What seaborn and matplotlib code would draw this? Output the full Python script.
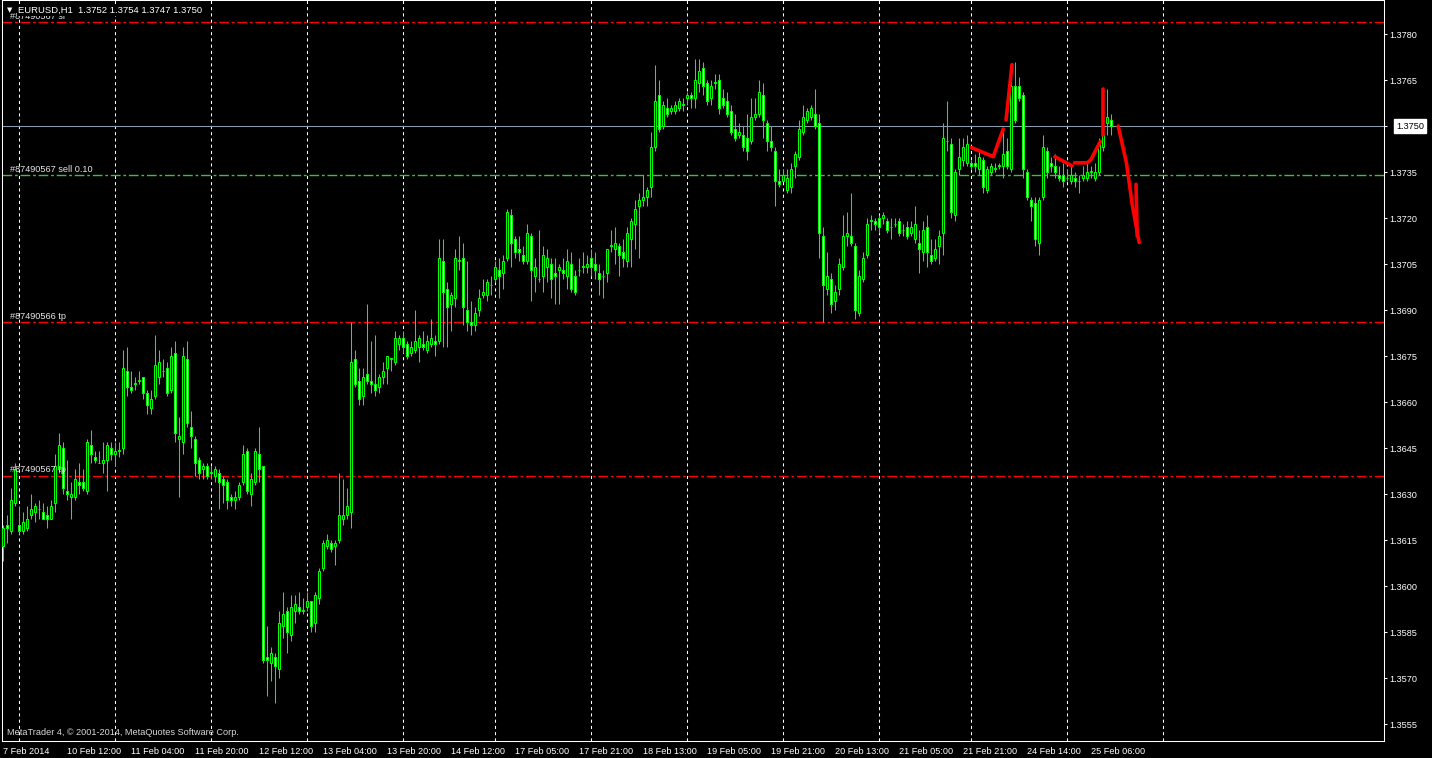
import numpy as np
import pandas as pd
import matplotlib
matplotlib.use("Agg")
import matplotlib.pyplot as plt
import matplotlib.transforms as mtransforms
import seaborn as sns

# EURUSD H1 bars, 7 Feb 2014 19:00 .. 25 Feb 2014 11:00
opens = [
    1.3613, 1.3620, 1.3618, 1.3627, 1.3620, 1.3618, 1.3619, 1.3623, 1.3624, 1.3625,
    1.3624, 1.3623, 1.3622, 1.3627, 1.3638, 1.3645, 1.3631, 1.3629, 1.3629, 1.3634,
    1.3634, 1.3631, 1.3646, 1.3642, 1.3640, 1.3640, 1.3641, 1.3645, 1.3643, 1.3644,
    1.3645, 1.3670, 1.3665, 1.3666, 1.3667, 1.3668, 1.3663, 1.3658, 1.3662, 1.3668,
    1.3670, 1.3671, 1.3664, 1.3676, 1.3648, 1.3647, 1.3674, 1.3652, 1.3648, 1.3641,
    1.3638, 1.3639, 1.3637, 1.3636, 1.3637, 1.3635, 1.3634, 1.3629, 1.3628, 1.3629,
    1.3634, 1.3644, 1.3630, 1.3634, 1.3643, 1.3639, 1.3577, 1.3575, 1.3577, 1.3573,
    1.3587, 1.3592, 1.3584, 1.3592, 1.3593, 1.3592, 1.3593, 1.3595, 1.3588, 1.3596,
    1.3606, 1.3613, 1.3614, 1.3613, 1.3615, 1.3622, 1.3623, 1.3624, 1.3674, 1.3667,
    1.3662, 1.3669, 1.3667, 1.3666, 1.3665, 1.3668, 1.3671, 1.3674, 1.3673, 1.3679,
    1.3681, 1.3679, 1.3676, 1.3677, 1.3678, 1.3679, 1.3677, 1.3679, 1.3680, 1.3680,
    1.3706, 1.3697, 1.3692, 1.3694, 1.3706, 1.3707, 1.3690, 1.3686, 1.3685, 1.3690,
    1.3695, 1.3695, 1.3698, 1.3700, 1.3703, 1.3702, 1.3707, 1.3721, 1.3713, 1.3710,
    1.3708, 1.3706, 1.3714, 1.3701, 1.3700, 1.3701, 1.3704, 1.3705, 1.3702, 1.3703,
    1.3703, 1.3701, 1.3705, 1.3701, 1.3703, 1.3704, 1.3704, 1.3707, 1.3705, 1.3702,
    1.3701, 1.3702, 1.3711, 1.3710, 1.3711, 1.3709, 1.3706, 1.3713, 1.3718, 1.3724,
    1.3726, 1.3727, 1.3730, 1.3743, 1.3760, 1.3750, 1.3756, 1.3755, 1.3755, 1.3756,
    1.3757, 1.3759, 1.3760, 1.3759, 1.3764, 1.3769, 1.3764, 1.3759, 1.3764, 1.3765,
    1.3759, 1.3758, 1.3755, 1.3749, 1.3747, 1.3747, 1.3746, 1.3745, 1.3753, 1.3754,
    1.3760, 1.3751, 1.3745, 1.3742, 1.3732, 1.3732, 1.3729, 1.3730, 1.3737, 1.3740,
    1.3748, 1.3752, 1.3753, 1.3754, 1.3751, 1.3714, 1.3697, 1.3700, 1.3693, 1.3697,
    1.3704, 1.3714, 1.3714, 1.3711, 1.3689, 1.3700, 1.3708, 1.3719, 1.3719, 1.3720,
    1.3720, 1.3719, 1.3717, 1.3718, 1.3719, 1.3716, 1.3717, 1.3715, 1.3713, 1.3712,
    1.3709, 1.3717, 1.3708, 1.3707, 1.3711, 1.3715, 1.3745, 1.3744, 1.3721, 1.3736,
    1.3739, 1.3738, 1.3738, 1.3738, 1.3736, 1.3739, 1.3729, 1.3735, 1.3736, 1.3737,
    1.3737, 1.3742, 1.3736, 1.3763, 1.3763, 1.3760, 1.3735, 1.3726, 1.3725, 1.3712,
    1.3727, 1.3742, 1.3738, 1.3737, 1.3734, 1.3734, 1.3733, 1.3732, 1.3733, 1.3732,
    1.3733, 1.3733, 1.3735, 1.3733, 1.3735, 1.3743, 1.3751, 1.3752,
]
highs = [
    1.3620, 1.3623, 1.3632, 1.3640, 1.3626, 1.3624, 1.3626, 1.3630, 1.3627, 1.3628,
    1.3627, 1.3626, 1.3628, 1.3643, 1.3650, 1.3647, 1.3641, 1.3634, 1.3638, 1.3640,
    1.3638, 1.3648, 1.3651, 1.3644, 1.3644, 1.3647, 1.3647, 1.3647, 1.3647, 1.3647,
    1.3677, 1.3678, 1.3670, 1.3668, 1.3670, 1.3668, 1.3664, 1.3664, 1.3682, 1.3677,
    1.3674, 1.3673, 1.3678, 1.3680, 1.3655, 1.3678, 1.3680, 1.3657, 1.3649, 1.3642,
    1.3640, 1.3640, 1.3639, 1.3639, 1.3638, 1.3636, 1.3635, 1.3630, 1.3631, 1.3634,
    1.3646, 1.3645, 1.3637, 1.3645, 1.3652, 1.3639, 1.3587, 1.3580, 1.3578, 1.3592,
    1.3598, 1.3593, 1.3597, 1.3597, 1.3598, 1.3596, 1.3598, 1.3595, 1.3598, 1.3606,
    1.3615, 1.3617, 1.3615, 1.3615, 1.3637, 1.3635, 1.3632, 1.3686, 1.3677, 1.3671,
    1.3671, 1.3692, 1.3680, 1.3682, 1.3669, 1.3673, 1.3675, 1.3674, 1.3683, 1.3682,
    1.3683, 1.3680, 1.3680, 1.3690, 1.3682, 1.3683, 1.3682, 1.3687, 1.3682, 1.3713,
    1.3713, 1.3699, 1.3696, 1.3710, 1.3714, 1.3712, 1.3706, 1.3693, 1.3691, 1.3697,
    1.3700, 1.3700, 1.3701, 1.3706, 1.3707, 1.3708, 1.3723, 1.3723, 1.3714, 1.3714,
    1.3711, 1.3718, 1.3715, 1.3707, 1.3716, 1.3711, 1.3710, 1.3707, 1.3707, 1.3705,
    1.3707, 1.3710, 1.3709, 1.3703, 1.3707, 1.3709, 1.3708, 1.3710, 1.3709, 1.3705,
    1.3703, 1.3710, 1.3716, 1.3717, 1.3712, 1.3713, 1.3717, 1.3720, 1.3726, 1.3728,
    1.3734, 1.3730, 1.3748, 1.3770, 1.3765, 1.3758, 1.3759, 1.3757, 1.3758, 1.3759,
    1.3759, 1.3761, 1.3761, 1.3772, 1.3772, 1.3771, 1.3765, 1.3765, 1.3767, 1.3767,
    1.3762, 1.3761, 1.3757, 1.3754, 1.3751, 1.3750, 1.3754, 1.3759, 1.3759, 1.3765,
    1.3764, 1.3752, 1.3750, 1.3743, 1.3736, 1.3736, 1.3736, 1.3738, 1.3742, 1.3752,
    1.3757, 1.3756, 1.3757, 1.3762, 1.3754, 1.3717, 1.3709, 1.3702, 1.3698, 1.3707,
    1.3721, 1.3722, 1.3728, 1.3712, 1.3703, 1.3709, 1.3720, 1.3721, 1.3720, 1.3721,
    1.3722, 1.3720, 1.3720, 1.3720, 1.3720, 1.3718, 1.3719, 1.3719, 1.3724, 1.3716,
    1.3719, 1.3721, 1.3713, 1.3713, 1.3716, 1.3751, 1.3758, 1.3746, 1.3736, 1.3746,
    1.3746, 1.3747, 1.3739, 1.3741, 1.3742, 1.3740, 1.3737, 1.3738, 1.3738, 1.3738,
    1.3749, 1.3746, 1.3770, 1.3771, 1.3766, 1.3761, 1.3736, 1.3727, 1.3727, 1.3727,
    1.3747, 1.3743, 1.3740, 1.3741, 1.3737, 1.3738, 1.3736, 1.3737, 1.3735, 1.3734,
    1.3737, 1.3738, 1.3737, 1.3738, 1.3746, 1.3750, 1.3762, 1.3754,
]
lows = [
    1.3608, 1.3614, 1.3617, 1.3626, 1.3617, 1.3617, 1.3618, 1.3622, 1.3621, 1.3622,
    1.3622, 1.3619, 1.3622, 1.3624, 1.3637, 1.3630, 1.3628, 1.3622, 1.3628, 1.3630,
    1.3631, 1.3630, 1.3640, 1.3640, 1.3640, 1.3637, 1.3631, 1.3641, 1.3639, 1.3642,
    1.3643, 1.3662, 1.3663, 1.3664, 1.3666, 1.3661, 1.3656, 1.3656, 1.3661, 1.3666,
    1.3668, 1.3662, 1.3663, 1.3647, 1.3629, 1.3643, 1.3652, 1.3645, 1.3636, 1.3635,
    1.3635, 1.3635, 1.3635, 1.3634, 1.3625, 1.3627, 1.3625, 1.3626, 1.3625, 1.3628,
    1.3633, 1.3630, 1.3626, 1.3633, 1.3634, 1.3575, 1.3564, 1.3569, 1.3562, 1.3570,
    1.3583, 1.3578, 1.3582, 1.3588, 1.3591, 1.3591, 1.3592, 1.3585, 1.3585, 1.3594,
    1.3605, 1.3612, 1.3611, 1.3607, 1.3614, 1.3620, 1.3622, 1.3619, 1.3665, 1.3659,
    1.3659, 1.3666, 1.3663, 1.3662, 1.3663, 1.3666, 1.3666, 1.3670, 1.3672, 1.3677,
    1.3676, 1.3674, 1.3675, 1.3676, 1.3673, 1.3677, 1.3676, 1.3678, 1.3675, 1.3679,
    1.3678, 1.3678, 1.3683, 1.3691, 1.3703, 1.3685, 1.3683, 1.3682, 1.3683, 1.3688,
    1.3694, 1.3693, 1.3695, 1.3699, 1.3694, 1.3697, 1.3706, 1.3704, 1.3707, 1.3706,
    1.3705, 1.3705, 1.3693, 1.3696, 1.3699, 1.3696, 1.3699, 1.3694, 1.3692, 1.3692,
    1.3700, 1.3697, 1.3696, 1.3695, 1.3701, 1.3702, 1.3702, 1.3701, 1.3700, 1.3695,
    1.3694, 1.3699, 1.3709, 1.3705, 1.3701, 1.3704, 1.3704, 1.3704, 1.3710, 1.3707,
    1.3724, 1.3724, 1.3727, 1.3742, 1.3748, 1.3749, 1.3753, 1.3754, 1.3754, 1.3755,
    1.3755, 1.3757, 1.3756, 1.3756, 1.3761, 1.3760, 1.3757, 1.3757, 1.3762, 1.3754,
    1.3756, 1.3753, 1.3747, 1.3745, 1.3746, 1.3742, 1.3739, 1.3744, 1.3752, 1.3753,
    1.3746, 1.3742, 1.3742, 1.3724, 1.3730, 1.3732, 1.3728, 1.3728, 1.3733, 1.3739,
    1.3747, 1.3751, 1.3752, 1.3749, 1.3707, 1.3686, 1.3695, 1.3689, 1.3690, 1.3695,
    1.3703, 1.3711, 1.3711, 1.3687, 1.3688, 1.3699, 1.3707, 1.3716, 1.3716, 1.3715,
    1.3718, 1.3715, 1.3713, 1.3717, 1.3714, 1.3714, 1.3713, 1.3714, 1.3712, 1.3702,
    1.3706, 1.3704, 1.3705, 1.3706, 1.3705, 1.3708, 1.3742, 1.3720, 1.3719, 1.3734,
    1.3737, 1.3737, 1.3736, 1.3735, 1.3734, 1.3728, 1.3728, 1.3734, 1.3735, 1.3736,
    1.3733, 1.3736, 1.3735, 1.3751, 1.3758, 1.3733, 1.3726, 1.3719, 1.3711, 1.3708,
    1.3726, 1.3733, 1.3735, 1.3733, 1.3732, 1.3730, 1.3732, 1.3731, 1.3730, 1.3728,
    1.3732, 1.3732, 1.3733, 1.3732, 1.3734, 1.3742, 1.3747, 1.3747,
]
closes = [
    1.3619, 1.3619, 1.3628, 1.3638, 1.3618, 1.3621, 1.3622, 1.3625, 1.3626, 1.3625,
    1.3622, 1.3622, 1.3626, 1.3639, 1.3646, 1.3632, 1.3630, 1.3630, 1.3635, 1.3633,
    1.3632, 1.3647, 1.3643, 1.3641, 1.3640, 1.3641, 1.3646, 1.3643, 1.3644, 1.3644,
    1.3671, 1.3665, 1.3664, 1.3666, 1.3667, 1.3663, 1.3659, 1.3661, 1.3672, 1.3673,
    1.3670, 1.3663, 1.3675, 1.3650, 1.3649, 1.3675, 1.3653, 1.3649, 1.3640, 1.3637,
    1.3639, 1.3636, 1.3637, 1.3638, 1.3634, 1.3633, 1.3628, 1.3628, 1.3629, 1.3633,
    1.3643, 1.3631, 1.3635, 1.3644, 1.3638, 1.3576, 1.3576, 1.3578, 1.3574, 1.3588,
    1.3591, 1.3585, 1.3593, 1.3594, 1.3592, 1.3592, 1.3595, 1.3587, 1.3597, 1.3605,
    1.3614, 1.3615, 1.3612, 1.3614, 1.3623, 1.3623, 1.3626, 1.3673, 1.3666, 1.3661,
    1.3668, 1.3667, 1.3666, 1.3664, 1.3668, 1.3670, 1.3675, 1.3674, 1.3681, 1.3681,
    1.3678, 1.3675, 1.3678, 1.3680, 1.3681, 1.3678, 1.3680, 1.3681, 1.3679, 1.3707,
    1.3696, 1.3691, 1.3695, 1.3707, 1.3706, 1.3691, 1.3686, 1.3685, 1.3689, 1.3694,
    1.3696, 1.3699, 1.3698, 1.3704, 1.3701, 1.3706, 1.3722, 1.3712, 1.3709, 1.3709,
    1.3706, 1.3715, 1.3703, 1.3704, 1.3700, 1.3708, 1.3707, 1.3700, 1.3701, 1.3704,
    1.3702, 1.3706, 1.3697, 1.3696, 1.3703, 1.3704, 1.3705, 1.3704, 1.3703, 1.3700,
    1.3701, 1.3710, 1.3711, 1.3712, 1.3708, 1.3707, 1.3715, 1.3719, 1.3723, 1.3726,
    1.3727, 1.3729, 1.3743, 1.3758, 1.3749, 1.3757, 1.3754, 1.3756, 1.3757, 1.3758,
    1.3757, 1.3760, 1.3759, 1.3765, 1.3768, 1.3763, 1.3758, 1.3763, 1.3764, 1.3756,
    1.3757, 1.3754, 1.3748, 1.3746, 1.3748, 1.3743, 1.3742, 1.3753, 1.3754, 1.3761,
    1.3752, 1.3745, 1.3743, 1.3732, 1.3731, 1.3734, 1.3733, 1.3736, 1.3741, 1.3749,
    1.3753, 1.3755, 1.3756, 1.3750, 1.3715, 1.3698, 1.3701, 1.3692, 1.3696, 1.3705,
    1.3714, 1.3715, 1.3712, 1.3690, 1.3701, 1.3707, 1.3718, 1.3719, 1.3718, 1.3717,
    1.3721, 1.3716, 1.3717, 1.3718, 1.3715, 1.3716, 1.3714, 1.3717, 1.3718, 1.3710,
    1.3716, 1.3709, 1.3706, 1.3710, 1.3714, 1.3746, 1.3745, 1.3722, 1.3735, 1.3740,
    1.3743, 1.3744, 1.3737, 1.3737, 1.3740, 1.3730, 1.3736, 1.3737, 1.3736, 1.3737,
    1.3741, 1.3737, 1.3763, 1.3752, 1.3759, 1.3736, 1.3727, 1.3724, 1.3713, 1.3726,
    1.3743, 1.3735, 1.3737, 1.3735, 1.3733, 1.3732, 1.3733, 1.3734, 1.3732, 1.3732,
    1.3734, 1.3735, 1.3735, 1.3735, 1.3744, 1.3747, 1.3753, 1.3750,
]

# order lines
sl_price = 1.3784
sell_price = 1.3734
tp66_price = 1.3686
tp67_price = 1.3636
bid_price = 1.3750

# red indicator line (bar index, price), one list per stroke
zz_bars = [[242, 247.5, 250], [250.7, 252.2], [262.9, 267.2],
           [267.8, 271.0, 271.9, 274.3], [275, 275],
           [278.75, 280.8, 282.3, 284.0], [283.2, 283.5]]
zz_prices = [[1.3743, 1.3740, 1.3749], [1.3752, 1.3770], [1.3740, 1.3737],
             [1.3738, 1.3738, 1.3739, 1.3745], [1.3747, 1.3762],
             [1.3750, 1.3738, 1.3724, 1.3712], [1.3731, 1.3714]]

header_txt = "EURUSD,H1  1.3752 1.3754 1.3747 1.3750"
copyright_txt = "MetaTrader 4, \u00a9 2001-2014, MetaQuotes Software Corp."
price_ticks = [1.3555, 1.3570, 1.3585, 1.3600, 1.3615, 1.3630, 1.3645, 1.3660,
               1.3675, 1.3690, 1.3705, 1.3720, 1.3735, 1.3750, 1.3765, 1.3780]

sns.set_theme(style="dark", rc={
    "axes.facecolor": "black", "figure.facecolor": "black",
    "axes.edgecolor": "white", "axes.grid": False,
    "xtick.color": "white", "ytick.color": "white", "text.color": "white",
})
plt.rcParams['font.family'] = ['Liberation Sans', 'DejaVu Sans']

n = min(len(opens), len(highs), len(lows), len(closes))
df = pd.DataFrame({"open": opens[:n], "high": highs[:n], "low": lows[:n], "close": closes[:n]})
df["bar"] = np.arange(n)

# broker time axis: no weekend bars, friday closes at 23:00
hours = pd.date_range("2014-02-07 19:00", "2014-02-26 00:00", freq="h")
hours = hours[(hours.dayofweek < 5) & ~((hours.dayofweek == 4) & (hours.hour == 23))]

W, H = 1432, 758
fig = plt.figure(figsize=(W / 100, H / 100), dpi=100)
ax = fig.add_axes([2 / W, 17 / H, 1382 / W, 741 / H])
ax.set_xlim(-0.33, 345.2)
ax.set_ylim(1.354946, 1.379109)

# day separators (dotted)
for i, t in enumerate(hours):
    if t.hour == 0:
        ax.axvline(i, color="white", lw=0.75, ls=(0, (3, 3)), zorder=1)

# order levels
ax.axhline(sl_price, color="#ff0000", lw=1.0, ls=(0, (7, 2, 2, 2)), zorder=1.5)
ax.axhline(tp66_price, color="#ff0000", lw=1.0, ls=(0, (7, 2, 2, 2)), zorder=1.5)
ax.axhline(tp67_price, color="#ff0000", lw=1.0, ls=(0, (7, 2, 2, 2)), zorder=1.5)
ax.axhline(sell_price, color="#3cc03c", lw=1.0, ls=(0, (7, 2, 2, 2)), zorder=1.5)
ax.axhline(bid_price, color="#8a9bb0", lw=0.75, zorder=1.5)

# candles
bull = df["close"] >= df["open"]
body_lo = df[["open", "close"]].min(axis=1)
body_h = (df["close"] - df["open"]).abs().clip(lower=0.00002)
ax.vlines(df["bar"], df["low"], df["high"], colors="#00ff00", lw=0.75, zorder=3)
ax.bar(df["bar"], body_h, bottom=body_lo, width=0.5,
       color=np.where(bull, "black", "white"), edgecolor="#00ff00",
       linewidth=0.75, zorder=4)

# red indicator strokes
zz = pd.DataFrame([(k, b, p) for k, (bs, ps) in enumerate(zip(zz_bars, zz_prices))
                   for b, p in zip(bs, ps)], columns=["stroke", "bar", "price"])
sns.lineplot(data=zz, x="bar", y="price", units="stroke", estimator=None, sort=False,
             color="#ff0000", lw=2.6, ax=ax, zorder=5, legend=False)
ax.set_xlabel("")
ax.set_ylabel("")

# order labels
lbl = dict(fontsize=6.6, color="#e6e6e6", va="bottom", ha="left", zorder=6)
trans = mtransforms.blended_transform_factory(ax.transAxes, ax.transData)
ax.text(0.006, sell_price + 0.00004, "#87490567 sell 0.10", transform=trans, **lbl)
ax.text(0.006, tp66_price + 0.00004, "#87490566 tp", transform=trans, **lbl)
ax.text(0.006, tp67_price + 0.00004, "#87490567 tp", transform=trans, **lbl)
ax.text(0.006, sl_price + 0.00003, "#87490567 sl", transform=trans, **lbl)

# time axis
ticks = list(range(0, n, 16))
labels = ["7 Feb 2014" if j == 0 else f"{hours[j].day} {hours[j]:%b %H:%M}" for j in ticks]
ax.set_xticks(ticks)
ax.set_xticklabels(labels, ha="left")
ax.tick_params(axis="x", length=3, width=0.75, pad=1, labelsize=6.6, colors="white")

# price axis (the bid tag takes the place of its own tick label)
ax.yaxis.tick_right()
ax.set_yticks(price_ticks)
ax.set_yticklabels(["" if abs(p - bid_price) < 1e-6 else f"{p:.4f}" for p in price_ticks])
ax.tick_params(axis="y", length=2.5, width=0.75, pad=1.5, labelsize=6.6, colors="white")
ax.text(1.0088, bid_price, f"{bid_price:.4f}", transform=trans, fontsize=6.6,
        color="black", va="center", ha="left", clip_on=False, zorder=10,
        bbox=dict(boxstyle="square,pad=0.25", fc="white", ec="white"))

for s in ax.spines.values():
    s.set_color("white")
    s.set_linewidth(0.75)

# header and copyright
fig.text(7 / W, 1 - 10 / H, "\u25bc", fontsize=5, color="white", va="center", ha="left",
         family=["DejaVu Sans"])
fig.text(18 / W, 1 - 10 / H, header_txt, fontsize=6.8, color="white", va="center", ha="left",
         bbox=dict(boxstyle="square,pad=0.15", fc="black", ec="none"), zorder=20)
ax.text(0.0037, 0.0108, copyright_txt, transform=ax.transAxes, fontsize=6.6,
        color="#d8d8d8", va="center", ha="left", zorder=6)

fig.savefig("out.png", dpi=100, facecolor="black")
